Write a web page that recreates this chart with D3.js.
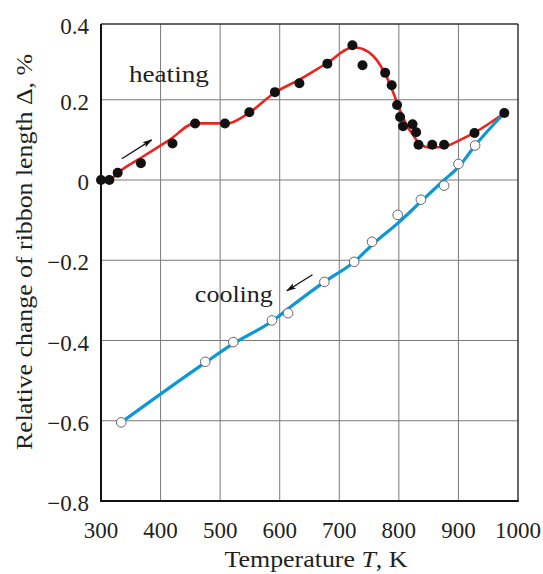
<!DOCTYPE html>
<html>
<head>
<meta charset="utf-8">
<script src="https://cdn.jsdelivr.net/npm/d3@7"></script>
<style>
  html, body { margin: 0; padding: 0; background: #fff; }
  svg { display: block; }
  text { font-family: "Liberation Serif", "Times New Roman", serif; fill: #231f20; }
</style>
</head>
<body>
<svg id="chart" width="543" height="574"></svg>
<script>
// ---- data ----
const xTicks = [300, 400, 500, 600, 700, 800, 900, 1000];
const yTicks = [-0.8, -0.6, -0.4, -0.2, 0, 0.2, 0.4];
const yTickLabels = ["\u22120.8", "\u22120.6", "\u22120.4", "\u22120.2", "0", "0.2", "0.4"];

// heating: measured points (filled)
const heatT = [300, 314, 328, 367, 420, 458, 508, 549, 592, 633, 680, 722, 739, 777, 788, 797, 802, 807, 823, 829, 833, 856, 876, 927, 977];
const heatV = [0, 0, 0.018, 0.042, 0.091, 0.141, 0.141, 0.169, 0.219, 0.241, 0.290, 0.336, 0.286, 0.267, 0.236, 0.187, 0.157, 0.134, 0.139, 0.119, 0.088, 0.088, 0.088, 0.117, 0.167];
// heating: fitted curve (red)
const heatCurveT = [300, 314, 328, 370, 415, 458, 512, 549, 592, 633, 680, 724, 746, 757, 768, 779, 790, 802, 813, 824, 833, 844, 856, 876, 903, 927, 977];
const heatCurveV = [0, 0, 0.018, 0.058, 0.100, 0.141, 0.141, 0.168, 0.218, 0.250, 0.292, 0.331, 0.322, 0.309, 0.288, 0.259, 0.220, 0.174, 0.137, 0.112, 0.093, 0.083, 0.081, 0.083, 0.100, 0.118, 0.167];

// cooling: measured points (open)
const coolT = [334, 475, 522, 587, 614, 675, 725, 755, 798, 837, 876, 900, 928];
const coolV = [-0.604, -0.453, -0.404, -0.350, -0.332, -0.254, -0.204, -0.154, -0.087, -0.049, -0.014, 0.040, 0.086];
// cooling: fitted curve (blue)
const coolCurveT = [334, 475, 522, 587, 614, 675, 725, 760, 798, 837, 876, 900, 928, 977];
const coolCurveV = [-0.604, -0.455, -0.408, -0.352, -0.321, -0.254, -0.204, -0.155, -0.108, -0.054, 0.0, 0.032, 0.086, 0.167];

// annotations
const labelText = ["heating", "cooling"];
const labelT = [414, 523];
const labelV = [0.244, -0.303];
const arrowFromT = [335, 655];
const arrowFromV = [0.053, -0.236];
const arrowToT = [385, 612];
const arrowToV = [0.100, -0.276];

// ---- layout ----
const svg = d3.select("#chart");
const left = 101, right = 518, bottom = 501;
const x = d3.scaleLinear().domain([300, 1000]).range([left, right]);
const y = d3.scaleLinear().domain([-0.8, 0.4]).range([bottom, 19.5]);
const plotTop = 24;

// grid
const g = svg.append("g");
g.selectAll("line.vg").data(xTicks.slice(1, -1)).enter().append("line")
  .attr("x1", d => x(d)).attr("x2", d => x(d)).attr("y1", plotTop).attr("y2", bottom)
  .attr("stroke", "#7a7a7a").attr("stroke-width", 1);
g.selectAll("line.hg").data(yTicks.filter(t => t > -0.8 && t < 0.4)).enter().append("line")
  .attr("x1", left).attr("x2", right).attr("y1", d => y(d)).attr("y2", d => y(d))
  .attr("stroke", "#7a7a7a").attr("stroke-width", 1);

// frame
g.append("line").attr("x1", left).attr("x2", right).attr("y1", plotTop).attr("y2", plotTop).attr("stroke", "#333").attr("stroke-width", 1.5);
g.append("line").attr("x1", right).attr("x2", right).attr("y1", plotTop).attr("y2", bottom).attr("stroke", "#333").attr("stroke-width", 1.5);
g.append("line").attr("x1", left).attr("x2", left).attr("y1", plotTop).attr("y2", bottom + 1).attr("stroke", "#111").attr("stroke-width", 2);
g.append("line").attr("x1", left - 1).attr("x2", right + 0.75).attr("y1", bottom).attr("y2", bottom).attr("stroke", "#111").attr("stroke-width", 2);

// tick labels
svg.append("g").selectAll("text").data(xTicks).enter().append("text")
  .attr("x", d => x(d)).attr("y", 538).attr("text-anchor", "middle")
  .attr("font-size", 23).text(d => d);
svg.append("g").selectAll("text").data(yTicks).enter().append("text")
  .attr("x", 89).attr("y", d => Math.max(y(d), plotTop) + 10).attr("text-anchor", "end")
  .attr("font-size", 23).text((d, i) => yTickLabels[i]);

// axis titles
const xt = svg.append("text").attr("x", 316).attr("y", 567).attr("text-anchor", "middle").attr("font-size", 24)
  .attr("textLength", 183).attr("lengthAdjust", "spacingAndGlyphs");
xt.append("tspan").text("Temperature ");
xt.append("tspan").attr("font-style", "italic").text("T");
xt.append("tspan").text(", K");

svg.append("text").attr("transform", "translate(32,252) rotate(-90)")
  .attr("text-anchor", "middle").attr("font-size", 24)
  .attr("textLength", 396).attr("lengthAdjust", "spacingAndGlyphs")
  .text("Relative change of ribbon length \u0394, %");

// curves
const line = d3.line().x(d => x(d[0])).y(d => y(d[1])).curve(d3.curveMonotoneX);
const heatCurve = heatCurveT.map((t, i) => [t, heatCurveV[i]]);
const coolCurve = coolCurveT.map((t, i) => [t, coolCurveV[i]]);
svg.append("path").datum(heatCurve).attr("d", line).attr("fill", "none")
  .attr("stroke", "#ec2420").attr("stroke-width", 2.6);
svg.append("path").datum(coolCurve).attr("d", line).attr("fill", "none")
  .attr("stroke", "#0a98d6").attr("stroke-width", 3.2);

// points
svg.append("g").selectAll("circle").data(coolT.map((t, i) => [t, coolV[i]])).enter().append("circle")
  .attr("cx", d => x(d[0])).attr("cy", d => y(d[1])).attr("r", 4.8)
  .attr("fill", "#fff").attr("stroke", "#666").attr("stroke-width", 1);
svg.append("g").selectAll("circle").data(heatT.map((t, i) => [t, heatV[i]])).enter().append("circle")
  .attr("cx", d => x(d[0])).attr("cy", d => y(d[1])).attr("r", 5)
  .attr("fill", "#111");

// arrows
const defs = svg.append("defs");
defs.append("marker").attr("id", "ah").attr("viewBox", "0 0 10 10").attr("refX", 9).attr("refY", 5)
  .attr("markerWidth", 10).attr("markerHeight", 10).attr("markerUnits", "userSpaceOnUse").attr("orient", "auto")
  .append("path").attr("d", "M0,2 L10,5 L0,8 L2,5 Z").attr("fill", "#111");
svg.append("g").selectAll("line").data(arrowFromT.map((t, i) => i)).enter().append("line")
  .attr("x1", i => x(arrowFromT[i])).attr("y1", i => y(arrowFromV[i]))
  .attr("x2", i => x(arrowToT[i])).attr("y2", i => y(arrowToV[i]))
  .attr("stroke", "#111").attr("stroke-width", 1.3).attr("marker-end", "url(#ah)");

// labels
svg.append("g").selectAll("text").data(labelText).enter().append("text")
  .attr("x", (d, i) => x(labelT[i])).attr("y", (d, i) => y(labelV[i]))
  .attr("text-anchor", "middle").attr("font-size", 24)
  .attr("textLength", (d, i) => i === 0 ? 80 : 78).attr("lengthAdjust", "spacingAndGlyphs")
  .text(d => d);
</script>
</body>
</html>
